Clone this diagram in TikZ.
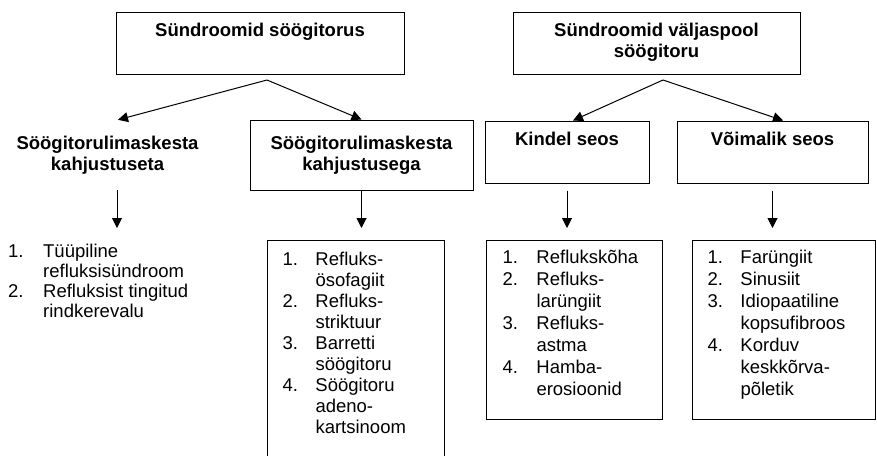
\documentclass[tikz,border=0pt]{standalone}
\usepackage{fontspec}
\setmainfont{Liberation Sans}
\usetikzlibrary{arrows.meta}

\tikzset{
  kast/.style={draw, rectangle, line width=1pt, align=center, inner sep=0pt,
    font=\bfseries\fontsize{18.5}{21}\selectfont},
  pealkiri/.style={rectangle, align=center, inner sep=0pt,
    font=\bfseries\fontsize{18.5}{21}\selectfont},
  loend/.style={draw, rectangle, line width=1pt, anchor=north west, align=left},
  nool/.style={-{Triangle[width=10pt,length=10pt]}, line width=1pt}
}

\begin{document}
\begin{tikzpicture}[x=1pt, y=-1pt]
  \useasboundingbox (0,0) rectangle (877,455);
  \clip (0,0) rectangle (877,455);

  \node[kast, minimum width=288pt, minimum height=62pt] (topin) at (260,43) {\strut Sündroomid söögitorus\\\strut};
  \node[kast, minimum width=287pt, minimum height=62pt] (topout) at (656.5,43) {\strut Sündroomid väljaspool\\\strut söögitoru};

  \node[pealkiri, minimum width=223pt, minimum height=70pt] (ilmakahj) at (107.5,155) {Söögitorulimaskesta\\kahjustuseta};
  \node[kast, minimum width=223pt, minimum height=70pt] (kahj) at (361.5,155) {Söögitorulimaskesta\\kahjustusega};
  \node[kast, minimum width=164pt, minimum height=62pt] (kindel) at (567,152) {\strut Kindel seos\\\strut};
  \node[kast, minimum width=191pt, minimum height=62pt] (voimalik) at (772.5,152) {\strut Võimalik seos\\\strut};

  \node[anchor=north west, inner sep=0pt, font=\fontsize{18.5}{20}\selectfont] (ilmalist) at (8,243) {%
    \begin{tabular}{@{}p{35pt}@{}l@{}}
      1. & Tüüpiline\\
         & refluksisündroom\\
      2. & Refluksist tingitud\\
         & rindkerevalu
    \end{tabular}};
  \node[loend, inner xsep=15pt, inner ysep=10pt, text width=147pt, font=\fontsize{18.5}{21}\selectfont] (kahjlist) at (267,240) {%
    \begin{tabular}{@{}p{33pt}@{}l@{}}
      1. & Refluks-\\
         & ösofagiit\\
      2. & Refluks-\\
         & striktuur\\
      3. & Barretti\\
         & söögitoru\\
      4. & Söögitoru\\
         & adeno-\\
         & kartsinoom\\[20pt]
    \end{tabular}};
  \node[loend, inner xsep=16pt, inner ysep=8pt, text width=144pt, font=\fontsize{18.5}{22}\selectfont] (kindellist) at (486,240) {%
    \begin{tabular}{@{}p{34pt}@{}l@{}}
      1. & Reflukskõha\\
      2. & Refluks-\\
         & larüngiit\\
      3. & Refluks-\\
         & astma\\
      4. & Hamba-\\
         & erosioonid\\[9pt]
    \end{tabular}};
  \node[loend, inner xsep=15pt, inner ysep=8pt, text width=153pt, font=\fontsize{18.5}{22}\selectfont] (voimaliklist) at (692,240) {%
    \begin{tabular}{@{}p{33pt}@{}l@{}}
      1. & Farüngiit\\
      2. & Sinusiit\\
      3. & Idiopaatiline\\
         & kopsufibroos\\
      4. & Korduv\\
         & keskkõrva-\\
         & põletik\\[9pt]
    \end{tabular}};

  \coordinate (splitin) at (267,80);
  \coordinate (splitout) at (663,80);
  \draw[nool] (splitin) -- ([xshift=10.5pt]ilmakahj.north);
  \draw[nool] (splitin) -- (kahj.north);
  \draw[nool] (splitout) -- ([xshift=6pt]kindel.north);
  \draw[nool] (splitout) -- ([xshift=10.5pt]voimalik.north);

  \draw[nool, shorten >=15pt] ([xshift=9.5pt]ilmakahj.south) -- ([xshift=9.5pt]ilmakahj.south |- ilmalist.north);
  \draw[nool, shorten >=12pt] (kahj.south) -- (kahj.south |- kahjlist.north);
  \draw[nool, shorten <=7pt, shorten >=12pt] (kindel.south) -- (kindel.south |- kindellist.north);
  \draw[nool, shorten <=7pt, shorten >=12pt] (voimalik.south) -- (voimalik.south |- voimaliklist.north);
\end{tikzpicture}
\end{document}
